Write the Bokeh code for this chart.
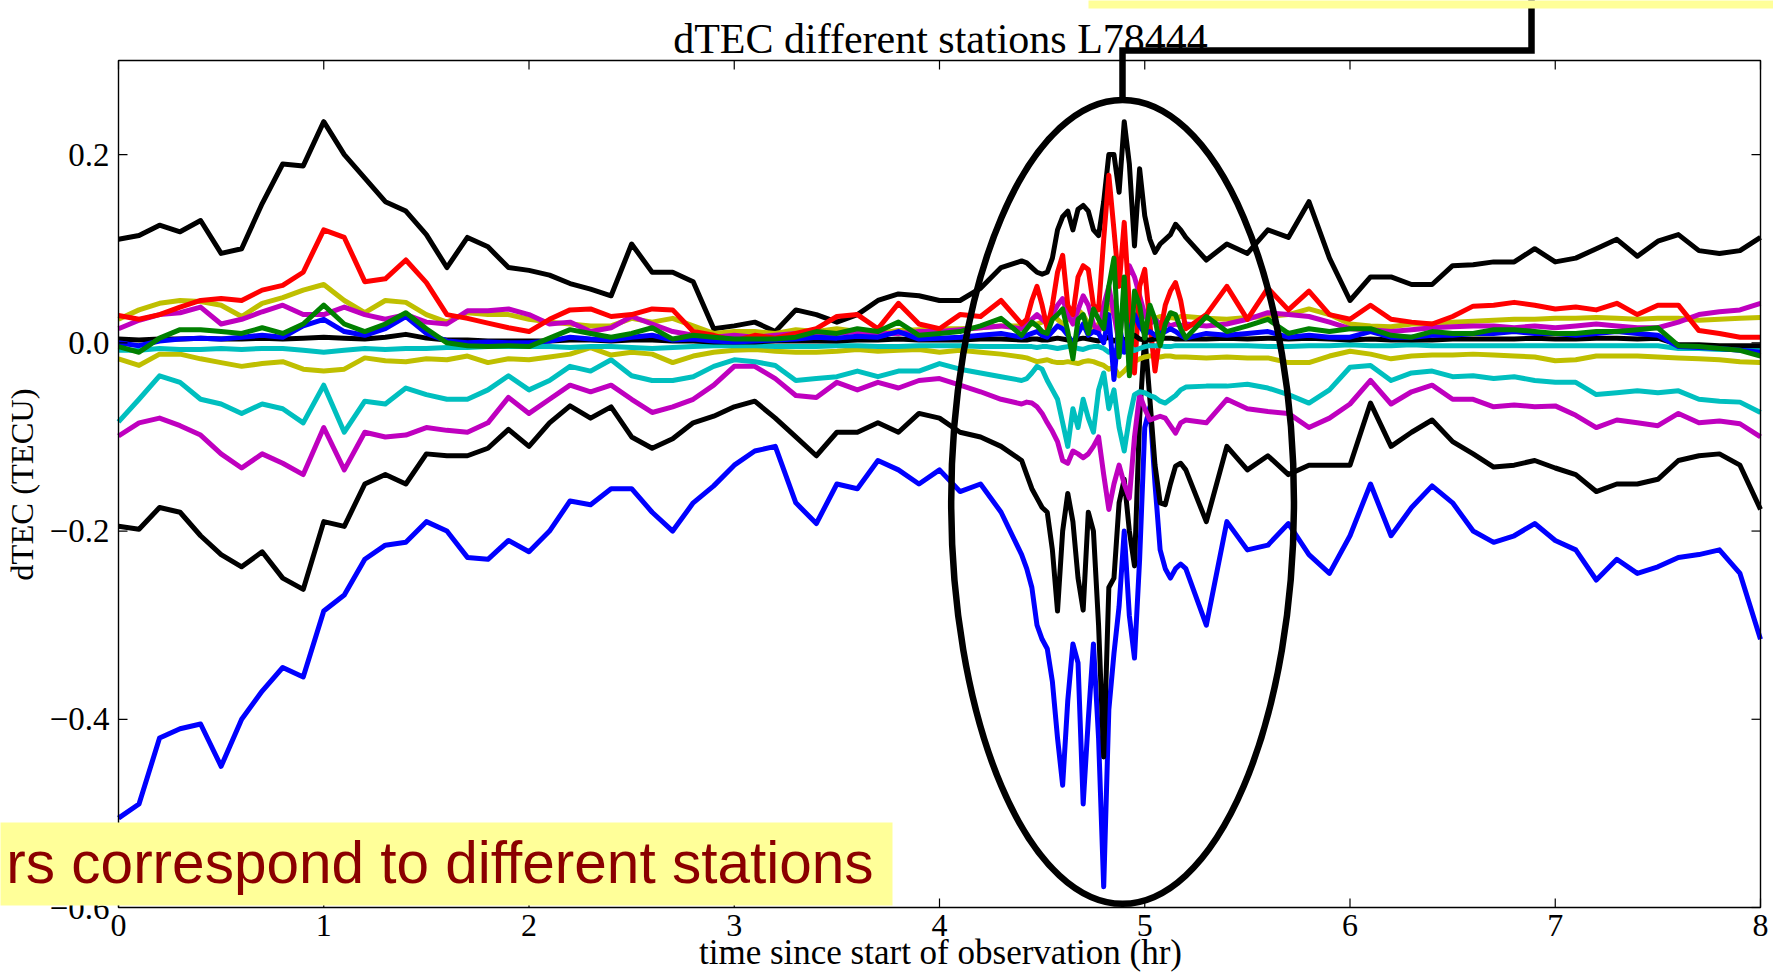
import numpy as np
from bokeh.plotting import figure
from bokeh.models import Range1d
from bokeh.embed import file_html
from bokeh.resources import INLINE
from bokeh.core.properties import value

# ---------------------------------------------------------------------------
# Time axis (hours since start of observation): 0.1 h sampling, refined to
# 0.025 h across the disturbance between 4.4 h and 5.2 h.
# ---------------------------------------------------------------------------
hours = np.concatenate([
    np.round(np.arange(0.0, 4.45, 0.1), 3),
    np.round(np.arange(4.425, 5.201, 0.025), 3),
    np.round(np.arange(5.3, 8.01, 0.1), 3),
])

# dTEC per station (TECU)
black_hi = [
    0.110, 0.114, 0.125, 0.118, 0.130, 0.095, 0.100, 0.148, 0.190, 0.188, 0.235, 0.200, 0.175, 0.150, 0.140, 0.115, 0.080, 0.112, 0.102, 0.080, 0.077,
    0.072, 0.063, 0.057, 0.050, 0.105, 0.075, 0.075, 0.065, 0.015, 0.018, 0.022, 0.012, 0.035, 0.030, 0.022, 0.030, 0.045, 0.052, 0.050, 0.045, 0.045, 0.058, 0.080, 0.087,
    0.085, 0.080, 0.075, 0.073, 0.075, 0.090, 0.120, 0.134, 0.140, 0.120, 0.142, 0.146, 0.140, 0.120, 0.114, 0.150, 0.200, 0.200, 0.160, 0.235, 0.190, 0.103, 0.185, 0.135, 0.110, 0.096, 0.105, 0.110, 0.115, 0.126, 0.120, 0.112,
    0.088, 0.105, 0.095, 0.120, 0.112, 0.150, 0.090, 0.045, 0.070, 0.070, 0.062, 0.062, 0.082, 0.083, 0.086, 0.086, 0.100, 0.086, 0.090, 0.100, 0.110, 0.092, 0.108, 0.115, 0.098, 0.095, 0.098, 0.112,
]
red = [
    0.029, 0.025, 0.030, 0.038, 0.045, 0.047, 0.045, 0.056, 0.061, 0.075, 0.120, 0.112, 0.065, 0.068, 0.088, 0.064, 0.030, 0.026, 0.021, 0.016, 0.012,
    0.025, 0.035, 0.036, 0.028, 0.030, 0.036, 0.035, 0.012, 0.008, 0.002, 0.008, 0.005, 0.010, 0.015, 0.028, 0.030, 0.015, 0.042, 0.020, 0.015, 0.030, 0.028, 0.045, 0.020,
    0.025, 0.045, 0.060, 0.040, 0.015, 0.040, 0.075, 0.093, 0.040, 0.030, 0.070, 0.082, 0.078, 0.040, 0.035, 0.110, 0.178, 0.120, 0.060, 0.128, 0.040, -0.032, 0.060, 0.078, 0.020, -0.030, 0.010, 0.040, 0.055, 0.064, 0.045, 0.015,
    0.030, 0.060, 0.025, 0.058, 0.035, 0.055, 0.030, 0.025, 0.040, 0.025, 0.022, 0.020, 0.028, 0.039, 0.040, 0.043, 0.040, 0.036, 0.038, 0.035, 0.042, 0.030, 0.040, 0.040, 0.013, 0.010, 0.006, 0.006,
]
yellow_hi = [
    0.025, 0.035, 0.042, 0.045, 0.044, 0.040, 0.028, 0.042, 0.048, 0.056, 0.062, 0.045, 0.032, 0.045, 0.043, 0.030, 0.022, 0.032, 0.030, 0.030, 0.025,
    0.022, 0.020, 0.018, 0.018, 0.026, 0.022, 0.026, 0.018, 0.010, 0.012, 0.012, 0.010, 0.014, 0.012, 0.015, 0.012, 0.010, 0.013, 0.014, 0.015, 0.015, 0.016, 0.018, 0.018,
    0.018, 0.020, 0.020, 0.022, 0.025, 0.030, 0.025, 0.020, 0.025, 0.030, 0.035, 0.030, 0.020, 0.015, 0.020, 0.030, 0.040, 0.030, 0.025, 0.028, 0.030, 0.025, 0.028, 0.030, 0.028, 0.026, 0.028, 0.025, 0.027, 0.026, 0.028, 0.028,
    0.026, 0.025, 0.027, 0.028, 0.030, 0.036, 0.030, 0.020, 0.018, 0.017, 0.020, 0.020, 0.022, 0.023, 0.024, 0.025, 0.025, 0.026, 0.026, 0.027, 0.026, 0.025, 0.026, 0.026, 0.024, 0.025, 0.026, 0.027,
]
magenta_hi = [
    0.015, 0.024, 0.030, 0.032, 0.038, 0.020, 0.025, 0.033, 0.040, 0.030, 0.030, 0.038, 0.030, 0.025, 0.030, 0.022, 0.020, 0.034, 0.034, 0.036, 0.030,
    0.020, 0.022, 0.012, 0.016, 0.028, 0.020, 0.012, 0.008, 0.006, 0.008, 0.006, 0.008, 0.010, 0.008, 0.010, 0.012, 0.010, 0.010, 0.012, 0.012, 0.014, 0.016, 0.018, 0.015,
    0.020, 0.025, 0.030, 0.025, 0.020, 0.030, 0.040, 0.047, 0.030, 0.020, 0.035, 0.050, 0.040, 0.020, 0.010, 0.040, 0.060, 0.030, 0.000, 0.050, 0.082, 0.070, 0.050, 0.030, 0.020, 0.025, 0.020, 0.022, 0.018, 0.020, 0.018, 0.020,
    0.018, 0.020, 0.025, 0.032, 0.030, 0.028, 0.022, 0.015, 0.014, 0.012, 0.014, 0.016, 0.017, 0.018, 0.018, 0.016, 0.018, 0.016, 0.018, 0.020, 0.018, 0.016, 0.016, 0.022, 0.030, 0.033, 0.035, 0.042,
]
green = [
    -0.004, -0.010, 0.005, 0.014, 0.014, 0.012, 0.010, 0.016, 0.010, 0.020, 0.040, 0.020, 0.012, 0.020, 0.032, 0.015, 0.000, -0.003, -0.004, -0.003, -0.004,
    0.005, 0.014, 0.010, 0.006, 0.010, 0.016, 0.004, 0.008, 0.006, 0.004, 0.004, 0.004, 0.006, 0.012, 0.010, 0.015, 0.012, 0.022, 0.008, 0.010, 0.012, 0.018, 0.026, 0.008,
    0.015, 0.022, 0.018, 0.012, 0.010, 0.025, 0.030, 0.036, 0.012, -0.017, 0.025, 0.030, 0.010, 0.036, 0.025, 0.015, 0.060, 0.090, -0.015, 0.070, -0.035, 0.055, 0.040, 0.005, 0.040, 0.025, -0.003, 0.020, 0.032, 0.030, 0.015, 0.005,
    0.028, 0.012, 0.018, 0.025, 0.010, 0.015, 0.012, 0.015, 0.015, 0.008, 0.006, 0.012, 0.010, 0.010, 0.014, 0.014, 0.012, 0.010, 0.010, 0.012, 0.012, 0.014, 0.016, -0.003, -0.004, -0.006, -0.008, -0.014,
]
blue_0 = [
    0.000, -0.003, 0.002, 0.004, 0.005, 0.004, 0.006, 0.008, 0.006, 0.018, 0.025, 0.012, 0.008, 0.015, 0.028, 0.010, 0.002, 0.000, 0.001, 0.000, 0.000,
    0.002, 0.006, 0.004, 0.003, 0.006, 0.008, 0.003, 0.004, 0.002, 0.001, 0.002, 0.003, 0.004, 0.006, 0.005, 0.007, 0.006, 0.012, 0.004, 0.005, 0.006, 0.008, 0.010, 0.006,
    0.008, 0.010, 0.012, 0.008, 0.006, 0.012, 0.018, 0.015, 0.008, 0.000, 0.010, 0.020, 0.008, 0.012, 0.010, 0.000, 0.030, -0.039, 0.020, -0.010, 0.010, 0.030, 0.018, 0.010, 0.012, 0.008, 0.010, 0.012, 0.015, 0.012, 0.008, 0.005,
    0.010, 0.008, 0.010, 0.012, 0.006, 0.008, 0.006, 0.006, 0.012, 0.006, 0.006, 0.008, 0.008, 0.010, 0.010, 0.012, 0.010, 0.010, 0.008, 0.010, 0.012, 0.010, 0.008, -0.004, -0.005, -0.006, -0.008, -0.010,
]
black_0 = [
    0.004, 0.003, 0.004, 0.004, 0.005, 0.004, 0.004, 0.005, 0.004, 0.005, 0.006, 0.005, 0.004, 0.006, 0.009, 0.005, 0.003, 0.003, 0.002, 0.002, 0.002,
    0.002, 0.003, 0.003, 0.002, 0.003, 0.003, 0.002, 0.002, 0.001, 0.001, 0.001, 0.002, 0.002, 0.002, 0.002, 0.003, 0.003, 0.004, 0.003, 0.003, 0.003, 0.004, 0.004, 0.003,
    0.003, 0.004, 0.004, 0.003, 0.003, 0.004, 0.005, 0.004, 0.003, 0.002, 0.004, 0.005, 0.004, 0.003, 0.002, 0.004, 0.006, 0.002, 0.005, 0.003, 0.006, 0.008, 0.004, 0.003, 0.003, 0.004, 0.004, 0.005, 0.005, 0.004, 0.004, 0.004,
    0.004, 0.005, 0.004, 0.005, 0.004, 0.005, 0.004, 0.003, 0.004, 0.003, 0.003, 0.003, 0.004, 0.004, 0.004, 0.004, 0.005, 0.004, 0.004, 0.005, 0.005, 0.004, 0.005, -0.002, -0.002, -0.003, -0.003, -0.003,
]
cyan_0 = [
    -0.008, -0.008, -0.006, -0.007, -0.007, -0.006, -0.007, -0.006, -0.006, -0.008, -0.010, -0.008, -0.006, -0.007, -0.006, -0.006, -0.005, -0.005, -0.004, -0.004, -0.004,
    -0.004, -0.005, -0.004, -0.004, -0.005, -0.006, -0.005, -0.004, -0.003, -0.003, -0.003, -0.004, -0.004, -0.004, -0.003, -0.003, -0.004, -0.004, -0.003, -0.003, -0.003, -0.004, -0.004, -0.004,
    -0.004, -0.004, -0.005, -0.004, -0.004, -0.005, -0.006, -0.005, -0.004, -0.004, -0.006, -0.007, -0.005, -0.004, -0.004, -0.006, -0.010, -0.008, -0.012, -0.006, -0.004, -0.008, -0.006, -0.004, -0.003, -0.003, -0.003, -0.004, -0.004, -0.003, -0.003, -0.003,
    -0.003, -0.003, -0.003, -0.004, -0.004, -0.003, -0.003, -0.002, -0.003, -0.003, -0.002, -0.003, -0.003, -0.003, -0.003, -0.003, -0.003, -0.003, -0.003, -0.003, -0.003, -0.003, -0.003, -0.006, -0.006, -0.007, -0.007, -0.008,
]
yellow_lo = [
    -0.017, -0.024, -0.012, -0.012, -0.017, -0.021, -0.025, -0.022, -0.020, -0.028, -0.030, -0.028, -0.016, -0.019, -0.020, -0.017, -0.018, -0.014, -0.021, -0.017, -0.018,
    -0.015, -0.012, -0.005, -0.013, -0.010, -0.012, -0.021, -0.014, -0.010, -0.008, -0.007, -0.009, -0.010, -0.010, -0.009, -0.007, -0.009, -0.008, -0.007, -0.010, -0.008, -0.010, -0.012, -0.015,
    -0.016, -0.018, -0.020, -0.019, -0.018, -0.020, -0.021, -0.021, -0.020, -0.021, -0.022, -0.020, -0.019, -0.020, -0.022, -0.024, -0.028, -0.026, -0.035, -0.030, -0.024, -0.020, -0.017, -0.015, -0.014, -0.014, -0.015, -0.014, -0.014, -0.015, -0.015, -0.015,
    -0.016, -0.015, -0.016, -0.016, -0.021, -0.021, -0.014, -0.009, -0.012, -0.017, -0.014, -0.013, -0.013, -0.012, -0.013, -0.014, -0.015, -0.019, -0.018, -0.014, -0.014, -0.014, -0.015, -0.016, -0.017, -0.018, -0.020, -0.021,
]
cyan_lo = [
    -0.084, -0.060, -0.035, -0.042, -0.060, -0.065, -0.075, -0.065, -0.070, -0.085, -0.045, -0.095, -0.062, -0.065, -0.048, -0.055, -0.060, -0.060, -0.050, -0.035, -0.050,
    -0.040, -0.025, -0.030, -0.018, -0.035, -0.040, -0.040, -0.036, -0.025, -0.018, -0.020, -0.024, -0.040, -0.038, -0.036, -0.030, -0.036, -0.030, -0.030, -0.022, -0.028, -0.032, -0.036, -0.040,
    -0.038, -0.032, -0.025, -0.028, -0.040, -0.050, -0.060, -0.085, -0.110, -0.070, -0.090, -0.060, -0.080, -0.095, -0.050, -0.032, -0.070, -0.050, -0.090, -0.115, -0.080, -0.055, -0.052, -0.053, -0.056, -0.058, -0.062, -0.064, -0.060, -0.056, -0.050, -0.047,
    -0.046, -0.046, -0.044, -0.048, -0.055, -0.064, -0.050, -0.026, -0.024, -0.040, -0.032, -0.030, -0.036, -0.035, -0.038, -0.036, -0.040, -0.042, -0.042, -0.055, -0.053, -0.051, -0.053, -0.051, -0.060, -0.062, -0.063, -0.074,
]
magenta_lo = [
    -0.099, -0.085, -0.080, -0.088, -0.098, -0.118, -0.133, -0.118, -0.128, -0.140, -0.090, -0.135, -0.095, -0.100, -0.098, -0.090, -0.093, -0.095, -0.085, -0.058, -0.075,
    -0.060, -0.045, -0.052, -0.045, -0.060, -0.074, -0.068, -0.060, -0.045, -0.025, -0.025, -0.038, -0.056, -0.058, -0.042, -0.050, -0.042, -0.048, -0.040, -0.038, -0.045, -0.052, -0.060, -0.065,
    -0.063, -0.064, -0.068, -0.075, -0.085, -0.094, -0.105, -0.125, -0.128, -0.115, -0.118, -0.122, -0.118, -0.110, -0.100, -0.140, -0.177, -0.150, -0.130, -0.150, -0.165, -0.100, -0.055, -0.070, -0.082, -0.080, -0.078, -0.080, -0.088, -0.096, -0.085, -0.082,
    -0.085, -0.060, -0.070, -0.073, -0.075, -0.090, -0.080, -0.065, -0.040, -0.065, -0.052, -0.045, -0.060, -0.060, -0.068, -0.066, -0.068, -0.067, -0.077, -0.090, -0.082, -0.085, -0.088, -0.075, -0.085, -0.083, -0.086, -0.100,
]
black_lo = [
    -0.195, -0.198, -0.175, -0.180, -0.205, -0.225, -0.238, -0.222, -0.250, -0.262, -0.190, -0.195, -0.150, -0.140, -0.150, -0.118, -0.120, -0.120, -0.112, -0.092, -0.110,
    -0.085, -0.067, -0.080, -0.068, -0.100, -0.112, -0.102, -0.085, -0.078, -0.068, -0.062, -0.080, -0.100, -0.120, -0.095, -0.095, -0.085, -0.095, -0.075, -0.080, -0.095, -0.100, -0.110, -0.125,
    -0.140, -0.155, -0.165, -0.175, -0.180, -0.220, -0.285, -0.200, -0.160, -0.190, -0.250, -0.284, -0.180, -0.200, -0.300, -0.440, -0.260, -0.250, -0.170, -0.145, -0.200, -0.237, -0.080, 0.008, -0.060, -0.130, -0.170, -0.172, -0.150, -0.131, -0.128, -0.135,
    -0.190, -0.110, -0.135, -0.120, -0.140, -0.130, -0.130, -0.130, -0.064, -0.110, -0.095, -0.082, -0.105, -0.118, -0.132, -0.130, -0.125, -0.133, -0.140, -0.158, -0.150, -0.150, -0.145, -0.125, -0.120, -0.118, -0.130, -0.177,
]
blue_lo = [
    -0.505, -0.490, -0.420, -0.410, -0.405, -0.450, -0.400, -0.370, -0.345, -0.355, -0.285, -0.268, -0.230, -0.215, -0.212, -0.190, -0.200, -0.228, -0.230, -0.210, -0.222,
    -0.200, -0.168, -0.172, -0.155, -0.155, -0.180, -0.200, -0.170, -0.152, -0.130, -0.115, -0.110, -0.170, -0.192, -0.150, -0.155, -0.125, -0.135, -0.150, -0.135, -0.158, -0.150, -0.180, -0.225,
    -0.240, -0.260, -0.300, -0.315, -0.325, -0.360, -0.420, -0.470, -0.380, -0.320, -0.340, -0.490, -0.400, -0.320, -0.420, -0.578, -0.390, -0.330, -0.280, -0.200, -0.290, -0.335, -0.230, -0.090, -0.068, -0.150, -0.220, -0.240, -0.250, -0.240, -0.235, -0.240,
    -0.300, -0.190, -0.220, -0.215, -0.192, -0.225, -0.245, -0.205, -0.150, -0.205, -0.175, -0.152, -0.170, -0.200, -0.212, -0.205, -0.192, -0.210, -0.220, -0.252, -0.230, -0.245, -0.238, -0.228, -0.225, -0.220, -0.245, -0.315,
]

x_ticks = [0, 1, 2, 3, 4, 5, 6, 7, 8]
x_tick_labels = ["0", "1", "2", "3", "4", "5", "6", "7", "8"]
y_ticks = [-0.6, -0.4, -0.2, 0.0, 0.2]
y_tick_labels = ["\u22120.6", "\u22120.4", "\u22120.2", "0.0", "0.2"]

# classic matplotlib colour cycle
C_BLUE, C_GREEN, C_RED, C_CYAN = "#0000ff", "#008000", "#ff0000", "#00bfbf"
C_MAGENTA, C_YELLOW, C_BLACK = "#bf00bf", "#bfbf00", "#000000"

stations = [
    (black_hi, C_BLACK), (blue_lo, C_BLUE), (black_lo, C_BLACK),
    (magenta_lo, C_MAGENTA), (cyan_lo, C_CYAN), (yellow_lo, C_YELLOW),
    (yellow_hi, C_YELLOW), (magenta_hi, C_MAGENTA), (red, C_RED),
    (cyan_0, C_CYAN), (black_0, C_BLACK), (blue_0, C_BLUE), (green, C_GREEN),
]
for vals, _ in stations:
    assert len(vals) == len(hours), len(vals)

# disturbance highlight (hours, TECU)
event_t = (4.057, 5.727)
event_v = (-0.596, 0.258)

# ---------------------------------------------------------------------------
# Page geometry: the data frame sits inside a full-page canvas so that the
# title, axis texts and call-out boxes around it can share one drawing area.
# ---------------------------------------------------------------------------
W, H = 1773, 973
FRAME_L, FRAME_R, FRAME_T, FRAME_B = 118, 1760, 60, 907
X0, X1 = 0.0, 8.0
Y0, Y1 = -0.6, 0.3
SX = (FRAME_R - FRAME_L) / (X1 - X0)   # px per hour
SY = (FRAME_B - FRAME_T) / (Y1 - Y0)   # px per TECU


def to_data(px, py):
    """Canvas pixel position -> data coordinates."""
    return X0 + (px - FRAME_L) / SX, Y1 - (py - FRAME_T) / SY


p = figure(width=W, height=H, output_backend="svg", toolbar_location=None,
           x_range=Range1d(X0 - FRAME_L / SX, X1 + (W - FRAME_R) / SX),
           y_range=Range1d(Y0 - (H - FRAME_B) / SY, Y1 + FRAME_T / SY),
           x_axis_type=None, y_axis_type=None, min_border=0)
p.outline_line_color = None
p.title.visible = False
p.background_fill_color = "white"
p.border_fill_color = "white"

SERIF = "Liberation Serif"
SANS = "Liberation Sans"
TICK = 9


def text_at(px, py_baseline, txt, font, size, align="center", color="black", angle=0.0,
            centre_shift=0.34):
    """Place a text whose baseline sits at the given canvas position."""
    x, y = to_data(px, py_baseline - centre_shift * size)
    p.text(x=[x], y=[y], text=[txt], angle=angle, text_font=value(font),
           text_font_size=value(f"{size}px"), text_align=value(align),
           text_baseline=value("middle"), text_color=color)


# station traces
for vals, col in stations:
    p.line(hours, vals, line_color=col, line_width=5.0, line_join="round")

# axes frame with inward ticks on all four sides
p.quad(left=[X0], right=[X1], bottom=[Y0], top=[Y1], fill_color=None,
       line_color="black", line_width=1.4)
nx, ny = len(x_ticks), len(y_ticks)
p.segment(x0=x_ticks, x1=x_ticks, y0=[Y0] * nx, y1=[Y0 + TICK / SY] * nx, line_color="black", line_width=1.2)
p.segment(x0=x_ticks, x1=x_ticks, y0=[Y1] * nx, y1=[Y1 - TICK / SY] * nx, line_color="black", line_width=1.2)
p.segment(x0=[X0] * ny, x1=[X0 + TICK / SX] * ny, y0=y_ticks, y1=y_ticks, line_color="black", line_width=1.2)
p.segment(x0=[X1] * ny, x1=[X1 - TICK / SX] * ny, y0=y_ticks, y1=y_ticks, line_color="black", line_width=1.2)

p.text(x=x_ticks, y=[Y0 - 7 / SY] * nx, text=x_tick_labels, text_font=value(SERIF),
       text_font_size=value("32px"), text_align=value("center"), text_baseline=value("top"),
       text_color="black")
p.text(x=[X0 - 9 / SX] * ny, y=y_ticks, text=y_tick_labels, text_font=value(SERIF),
       text_font_size=value("33px"), text_align=value("right"), text_baseline=value("middle"),
       text_color="black")

# titles
text_at(940, 53, "dTEC different stations L78444", SERIF, 42)
text_at(940, 964, "time since start of observation (hr)", SERIF, 35)
yx, yy = to_data(21, 484)
p.text(x=[yx], y=[yy], text=["dTEC (TECU)"], angle=np.pi / 2, text_font=value(SERIF),
       text_font_size=value("32.5px"), text_align=value("center"),
       text_baseline=value("middle"), text_color="black")

# highlight of the disturbance and its call-out
p.ellipse(x=[(event_t[0] + event_t[1]) / 2], y=[(event_v[0] + event_v[1]) / 2],
          width=[event_t[1] - event_t[0]], height=[event_v[1] - event_v[0]],
          fill_color=None, line_color="black", line_width=6.5)

path = [to_data(*pt) for pt in ((1122, 102), (1122, 50), (1531, 50), (1531, -6))]
p.line([q[0] for q in path], [q[1] for q in path], line_color="black", line_width=6.5,
       line_join="miter")

NOTE_FILL = "#ffff99"


def note_box(left, top, right, bottom):
    x0, y0 = to_data(left, bottom)
    x1, y1 = to_data(right, top)
    p.quad(left=[x0], right=[x1], bottom=[y0], top=[y1], fill_color=NOTE_FILL, line_color=None)


note_box(1088, -4, W + 4, 8)
note_box(-4, 822, 892, 905)

text_at(873, 882, "rs correspond to different stations", SANS, 58.5, align="right",
        color="#8b0000", centre_shift=0.35)

open("out.html", "w").write(file_html(p, INLINE, title="dTEC different stations L78444"))
